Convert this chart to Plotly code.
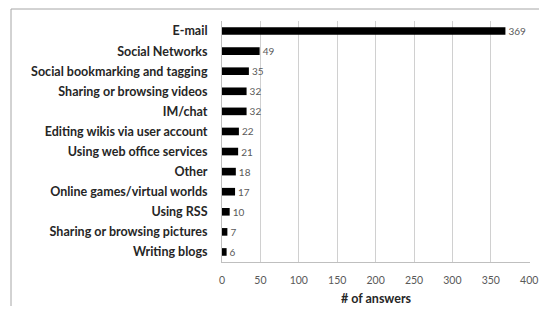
import plotly.graph_objects as go

categories = ["E-mail", "Social Networks", "Social bookmarking and tagging",
              "Sharing or browsing videos", "IM/chat", "Editing wikis via user account",
              "Using web office services", "Other", "Online games/virtual worlds",
              "Using RSS", "Sharing or browsing pictures", "Writing blogs"]
values = [369, 49, 35, 32, 32, 22, 21, 18, 17, 10, 7, 6]
x_ticks = [0, 50, 100, 150, 200, 250, 300, 350, 400]

# page body has an 8px margin, so the figure is sized to the visible area
W, H = 539, 298
L, R, T, B = 214, 17, 13, 44
pw, ph = W - L - R, H - T - B

fig = go.Figure(go.Bar(
    y=categories, x=values, orientation="h",
    marker=dict(color="black", line=dict(width=0)),
    text=values, textposition="outside", cliponaxis=False,
    constraintext="none",
    textfont=dict(family="Lato", size=10, color="#595959"),
    width=0.38,
))

fig.update_layout(
    width=W, height=H, margin=dict(l=L, r=R, t=T, b=B, autoexpand=False),
    paper_bgcolor="white", plot_bgcolor="white",
    showlegend=False,
    xaxis=dict(range=[0, 401], tickvals=x_ticks, showgrid=True, gridcolor="#d0d0d0",
               gridwidth=1, zeroline=False, showline=True, linecolor="#bfbfbf",
               automargin=False, ticklabeloverflow="allow",
               tickfont=dict(family="Lato", size=10.5, color="#595959"),
               title=dict(text="<b># of answers</b>", font=dict(family="Lato", size=12.5, color="#262626"), standoff=12),
               ticks="", ticklabelstandoff=8),
    yaxis=dict(autorange="reversed", showline=True, linecolor="#bfbfbf", showgrid=False,
               automargin=False,
               tickfont=dict(family="Lato", size=12.5, color="#262626", weight="bold"),
               ticks="", ticklabelstandoff=11),
    shapes=[
        dict(type="line", xref="paper", yref="paper",
             x0=(3 - L) / pw, x1=(W + 5 - L) / pw,
             y0=(H - B - 1) / ph, y1=(H - B - 1) / ph,
             line=dict(color="#a6a6a6", width=1)),
        dict(type="line", xref="paper", yref="paper",
             x0=(3 - L) / pw, x1=(3 - L) / pw,
             y0=(H - B - 1) / ph, y1=(H - B - H - 5) / ph,
             line=dict(color="#a6a6a6", width=1)),
    ],
)

fig.write_html("out.html")
